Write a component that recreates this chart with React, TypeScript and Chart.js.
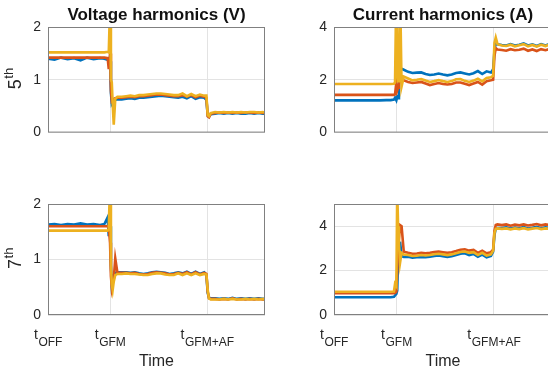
import React, { useEffect, useRef } from "react";
import { Chart, registerables } from "chart.js";

Chart.register(...registerables);

// ---- shared x positions (time axis, 0..100, tGFM = 28.6, tGFM+AF = 73.3) ----
const X = [
  0, 3, 6, 9, 12, 15, 18, 21, 24, 26, 27.5,
  28, 28.6, 29, 29.4, 29.8, 30.3, 31, 32,
  34, 36, 38, 40, 42, 44, 46, 48, 50, 52, 54, 56, 58, 60, 62, 64, 66, 68, 70, 72,
  73, 73.6, 74.2, 75,
  77, 79, 81, 83, 85, 87, 89, 91, 93, 95, 97, 99, 100,
];
const X_TICKS = [0, 28.6, 73.3];
const X_TICK_MAIN = ["t", "t", "t"];
const X_TICK_SUB = ["OFF", "GFM", "GFM+AF"];

// ---- Voltage 5th ----
const V5_BLUE = [
  1.40, 1.38, 1.42, 1.39, 1.41, 1.37, 1.42, 1.39, 1.41, 1.40, 1.38,
  1.40, 1.35, 0.75, 0.55, 0.58, 0.60, 0.62, 0.63,
  0.63, 0.64, 0.65, 0.64, 0.66, 0.66, 0.67, 0.68, 0.69, 0.70, 0.69, 0.68, 0.67, 0.66, 0.68, 0.65, 0.69, 0.64, 0.67, 0.66,
  0.62, 0.32, 0.30, 0.35,
  0.36, 0.37, 0.36, 0.37, 0.36, 0.37, 0.36, 0.36, 0.37, 0.36, 0.37, 0.36, 0.36,
];
const V5_ORANGE = [
  1.42, 1.42, 1.42, 1.42, 1.42, 1.42, 1.42, 1.42, 1.42, 1.42, 1.41,
  1.20, 1.50, 0.80, 0.60, 0.62, 0.64, 0.65, 0.66,
  0.66, 0.67, 0.68, 0.67, 0.69, 0.69, 0.70, 0.71, 0.72, 0.72, 0.71, 0.70, 0.69, 0.69, 0.71, 0.68, 0.71, 0.67, 0.70, 0.68,
  0.66, 0.31, 0.29, 0.36,
  0.37, 0.38, 0.37, 0.38, 0.37, 0.38, 0.37, 0.38, 0.38, 0.37, 0.38, 0.37, 0.37,
];
const V5_YELLOW = [
  1.52, 1.52, 1.52, 1.52, 1.52, 1.52, 1.52, 1.52, 1.52, 1.52, 1.53,
  1.52, 2.40, 1.00, 0.95, 0.55, 0.15, 0.64, 0.68,
  0.68, 0.69, 0.70, 0.69, 0.71, 0.71, 0.72, 0.73, 0.74, 0.74, 0.73, 0.72, 0.71, 0.71, 0.74, 0.69, 0.73, 0.69, 0.72, 0.70,
  0.70, 0.33, 0.31, 0.37,
  0.39, 0.38, 0.39, 0.38, 0.39, 0.38, 0.39, 0.38, 0.39, 0.39, 0.38, 0.39, 0.38,
];

// ---- Current 5th ----
const I5_BLUE = [
  1.22, 1.22, 1.22, 1.22, 1.22, 1.22, 1.22, 1.22, 1.23, 1.23, 1.25,
  1.32, 1.22, 1.35, 1.30, 2.20, 2.45, 2.42, 2.38,
  2.30, 2.26, 2.27, 2.28, 2.22, 2.18, 2.20, 2.24, 2.20, 2.17, 2.20, 2.26, 2.28, 2.24, 2.20, 2.25, 2.33, 2.22, 2.32, 2.28,
  2.40, 3.10, 3.40, 3.35,
  3.32, 3.30, 3.35, 3.30, 3.33, 3.38, 3.30, 3.34, 3.28, 3.35, 3.30, 3.36, 3.33,
];
const I5_ORANGE = [
  1.43, 1.43, 1.43, 1.43, 1.43, 1.43, 1.43, 1.43, 1.43, 1.43, 1.43,
  1.45, 1.90, 1.60, 1.70, 1.80, 2.00, 1.95, 1.98,
  1.92, 1.88, 1.90, 1.92, 1.86, 1.80, 1.84, 1.88, 1.84, 1.82, 1.84, 1.90, 1.90, 1.85, 1.80, 1.86, 1.92, 1.82, 1.95, 1.98,
  2.00, 2.90, 3.20, 3.15,
  3.13, 3.10, 3.16, 3.12, 3.14, 3.18, 3.10, 3.15, 3.09, 3.16, 3.12, 3.17, 3.14,
];
const I5_YELLOW = [
  1.84, 1.84, 1.84, 1.84, 1.84, 1.84, 1.84, 1.84, 1.84, 1.84, 1.85,
  1.90, 5.50, 2.20, 1.95, 2.40, 5.50, 1.75, 2.12,
  2.05, 1.98, 2.00, 2.03, 1.97, 1.92, 1.95, 1.99, 1.95, 1.92, 1.95, 2.02, 2.03, 1.96, 1.92, 1.97, 2.04, 1.94, 2.07, 2.10,
  2.15, 3.40, 3.60, 3.35,
  3.30, 3.28, 3.33, 3.27, 3.31, 3.35, 3.27, 3.32, 3.26, 3.33, 3.28, 3.34, 3.31,
];

// ---- Voltage 7th ----
const V7_BLUE = [
  1.63, 1.64, 1.62, 1.64, 1.63, 1.65, 1.63, 1.64, 1.62, 1.64, 1.76,
  1.42, 1.60, 0.90, 0.55, 0.62, 0.72, 0.76, 0.77,
  0.77, 0.77, 0.76, 0.77, 0.75, 0.74, 0.75, 0.77, 0.78, 0.77, 0.76, 0.74, 0.75, 0.77, 0.75, 0.78, 0.74, 0.78, 0.74, 0.77,
  0.72, 0.40, 0.31, 0.30,
  0.30, 0.29, 0.30, 0.29, 0.31, 0.29, 0.30, 0.29, 0.30, 0.29, 0.30, 0.29, 0.29,
];
const V7_ORANGE = [
  1.60, 1.60, 1.60, 1.60, 1.60, 1.60, 1.60, 1.60, 1.60, 1.60, 1.60,
  1.58, 1.30, 0.70, 0.50, 0.60, 0.65, 1.02, 0.76,
  0.76, 0.76, 0.75, 0.76, 0.74, 0.73, 0.74, 0.76, 0.77, 0.76, 0.75, 0.73, 0.74, 0.76, 0.74, 0.77, 0.73, 0.77, 0.73, 0.76,
  0.74, 0.42, 0.30, 0.29,
  0.29, 0.28, 0.29, 0.28, 0.30, 0.28, 0.29, 0.28, 0.29, 0.28, 0.29, 0.28, 0.28,
];
const V7_YELLOW = [
  1.52, 1.52, 1.52, 1.52, 1.52, 1.52, 1.52, 1.52, 1.52, 1.52, 1.52,
  1.55, 2.40, 0.90, 0.55, 0.45, 0.60, 0.72, 0.74,
  0.74, 0.75, 0.74, 0.74, 0.73, 0.72, 0.72, 0.74, 0.75, 0.75, 0.73, 0.72, 0.72, 0.75, 0.72, 0.75, 0.72, 0.75, 0.72, 0.74,
  0.73, 0.45, 0.30, 0.28,
  0.28, 0.28, 0.29, 0.28, 0.29, 0.28, 0.28, 0.29, 0.28, 0.29, 0.28, 0.29, 0.28,
];

// ---- Current 7th ----
const I7_BLUE = [
  0.80, 0.80, 0.80, 0.80, 0.80, 0.80, 0.80, 0.80, 0.80, 0.80, 0.82,
  0.88, 0.95, 1.10, 2.60, 2.50, 3.30, 2.65, 2.62,
  2.62, 2.58, 2.60, 2.62, 2.60, 2.62, 2.66, 2.68, 2.65, 2.62, 2.65, 2.70, 2.76, 2.78, 2.70, 2.75, 2.62, 2.72, 2.60, 2.66,
  2.85, 3.60, 3.90, 3.92,
  3.92, 3.95, 3.90, 3.94, 3.91, 3.96, 3.90, 3.93, 3.97, 3.91, 3.95, 3.92, 3.94,
];
const I7_ORANGE = [
  0.98, 0.98, 0.98, 0.98, 0.98, 0.98, 0.98, 0.98, 0.98, 0.98, 0.98,
  1.00, 1.05, 2.00, 3.00, 3.00, 4.05, 4.00, 2.85,
  2.80, 2.76, 2.77, 2.80, 2.78, 2.80, 2.84, 2.86, 2.83, 2.80, 2.83, 2.88, 2.94, 2.96, 2.90, 2.93, 2.80, 2.90, 2.78, 2.83,
  2.95, 3.80, 4.05, 4.08,
  4.05, 4.08, 4.02, 4.07, 4.04, 4.08, 4.03, 4.06, 4.10, 4.04, 4.08, 4.05, 4.07,
];
const I7_YELLOW = [
  1.05, 1.05, 1.05, 1.05, 1.05, 1.05, 1.05, 1.05, 1.05, 1.05, 1.06,
  1.40, 1.30, 5.60, 4.00, 3.20, 2.35, 2.80, 2.72,
  2.70, 2.66, 2.67, 2.70, 2.68, 2.70, 2.74, 2.76, 2.73, 2.70, 2.73, 2.78, 2.84, 2.86, 2.80, 2.83, 2.70, 2.80, 2.68, 2.73,
  2.90, 3.70, 3.88, 3.90,
  3.88, 3.90, 3.86, 3.90, 3.87, 3.91, 3.86, 3.89, 3.92, 3.87, 3.90, 3.88, 3.90,
];

const V_TICKS = [0, 1, 2];
const I5_TICKS = [0, 2, 4];
const I7_TICKS = [0, 2, 4];

const COLORS = ["#0072BD", "#D95319", "#EDB120"];
const FONT = "'Liberation Sans', Arial, Helvetica, sans-serif";
const TEXT = "#262626";

type PanelProps = {
  left: number;
  top: number;
  plotW: number;
  bottomPad: number;
  yMax: number;
  yTicks: number[];
  series: number[][];
  title?: string;
  yLabel?: string;
  ySup?: string;
  xLabels?: boolean;
};

const PAD_LEFT = 48;
const PAD_TOP = 27;
const PAD_RIGHT = 10;
const PLOT_H = 111;

function Panel(p: PanelProps) {
  const ref = useRef<HTMLCanvasElement>(null);
  const w = PAD_LEFT + p.plotW + PAD_RIGHT;
  const h = PAD_TOP + PLOT_H + p.bottomPad;

  useEffect(() => {
    if (!ref.current) return;
    const deco = {
      id: "deco",
      afterDraw(chart: any) {
        const ctx = chart.ctx as CanvasRenderingContext2D;
        const a = chart.chartArea;
        ctx.save();
        // box
        ctx.strokeStyle = "#808080";
        ctx.lineWidth = 1;
        ctx.strokeRect(a.left + 0.5, a.top + 0.5, a.right - a.left - 1, a.bottom - a.top - 1);
        ctx.fillStyle = TEXT;
        ctx.textBaseline = "alphabetic";
        // title
        if (p.title) {
          ctx.font = `bold 17px ${FONT}`;
          ctx.fillStyle = "#111";
          ctx.textAlign = "center";
          ctx.fillText(p.title, (a.left + a.right) / 2, a.top - 7);
        }
        ctx.fillStyle = TEXT;
        // y label with superscript
        if (p.yLabel) {
          ctx.save();
          ctx.translate(a.left - 27, (a.top + a.bottom) / 2 - 1);
          ctx.rotate(-Math.PI / 2);
          ctx.textAlign = "left";
          ctx.font = `18px ${FONT}`;
          const w1 = ctx.measureText(p.yLabel).width;
          ctx.font = `13px ${FONT}`;
          const w2 = ctx.measureText(p.ySup || "").width;
          const x0 = -(w1 + w2) / 2;
          ctx.font = `18px ${FONT}`;
          ctx.fillText(p.yLabel, x0, 0);
          ctx.font = `13px ${FONT}`;
          ctx.fillText(p.ySup || "", x0 + w1 + 0.5, -8);
          ctx.restore();
        }
        // x tick labels with subscripts + axis title
        if (p.xLabels) {
          const xs = chart.scales.x;
          ctx.textAlign = "left";
          X_TICKS.forEach((v, i) => {
            const px = xs.getPixelForValue(v);
            ctx.font = `14px ${FONT}`;
            const wm = ctx.measureText(X_TICK_MAIN[i]).width;
            ctx.font = `12px ${FONT}`;
            const ws = ctx.measureText(X_TICK_SUB[i]).width;
            const x0 = px - (wm + ws) / 2;
            ctx.font = `14px ${FONT}`;
            ctx.fillText(X_TICK_MAIN[i], x0, a.bottom + 24);
            ctx.font = `12px ${FONT}`;
            ctx.fillText(X_TICK_SUB[i], x0 + wm + 0.5, a.bottom + 31);
          });
          ctx.font = `16px ${FONT}`;
          ctx.textAlign = "center";
          ctx.fillText("Time", (a.left + a.right) / 2, a.bottom + 51);
        }
        ctx.restore();
      },
    };

    const gridColor = "#e3e3e3";
    const chart = new Chart(ref.current, {
      type: "line",
      data: {
        datasets: p.series.map((s, i) => ({
          data: X.map((x, j) => ({ x, y: s[j] })),
          borderColor: COLORS[i],
          backgroundColor: COLORS[i],
          borderWidth: 2.6,
          pointRadius: 0,
          tension: 0,
          fill: false,
          order: 3 - i,
        })),
      },
      options: {
        animation: false,
        responsive: false,
        maintainAspectRatio: false,
        events: [],
        layout: { padding: { left: 0, top: PAD_TOP, right: PAD_RIGHT, bottom: 0 } },
        plugins: {
          legend: { display: false },
          tooltip: { enabled: false },
          title: { display: false },
        },
        scales: {
          x: {
            type: "linear",
            min: 0,
            max: 100,
            afterBuildTicks: (s: any) => {
              s.ticks = X_TICKS.map((v) => ({ value: v }));
            },
            ticks: { display: false },
            grid: { color: gridColor, drawTicks: false, lineWidth: 1 },
            border: { display: false },
            afterFit: (s: any) => {
              s.height = p.bottomPad;
            },
          },
          y: {
            type: "linear",
            min: 0,
            max: p.yMax,
            afterBuildTicks: (s: any) => {
              s.ticks = p.yTicks.map((v) => ({ value: v }));
            },
            ticks: {
              font: { family: FONT, size: 14 },
              color: TEXT,
              padding: 7,
            },
            grid: { color: gridColor, drawTicks: false, lineWidth: 1 },
            border: { display: false },
            afterFit: (s: any) => {
              s.width = PAD_LEFT;
            },
          },
        },
      } as any,
      plugins: [deco],
    });
    return () => chart.destroy();
  }, []);

  return (
    <canvas
      ref={ref}
      width={w}
      height={h}
      style={{ position: "absolute", left: p.left, top: p.top, width: w, height: h }}
    />
  );
}

export default function App() {
  return (
    <div
      style={{
        position: "fixed",
        left: 0,
        top: 0,
        width: 548,
        height: 372,
        overflow: "hidden",
        background: "#fff",
      }}
    >
      <Panel
        left={0}
        top={0}
        plotW={217}
        bottomPad={10}
        yMax={2}
        yTicks={V_TICKS}
        series={[V5_BLUE, V5_ORANGE, V5_YELLOW]}
        title="Voltage harmonics (V)"
        yLabel="5"
        ySup="th"
      />
      <Panel
        left={286}
        top={0}
        plotW={218}
        bottomPad={10}
        yMax={4}
        yTicks={I5_TICKS}
        series={[I5_BLUE, I5_ORANGE, I5_YELLOW]}
        title="Current harmonics (A)"
      />
      <Panel
        left={0}
        top={177}
        plotW={217}
        bottomPad={57}
        yMax={2}
        yTicks={V_TICKS}
        series={[V7_BLUE, V7_ORANGE, V7_YELLOW]}
        yLabel="7"
        ySup="th"
        xLabels
      />
      <Panel
        left={286}
        top={177}
        plotW={218}
        bottomPad={57}
        yMax={5}
        yTicks={I7_TICKS}
        series={[I7_BLUE, I7_ORANGE, I7_YELLOW]}
        xLabels
      />
    </div>
  );
}
